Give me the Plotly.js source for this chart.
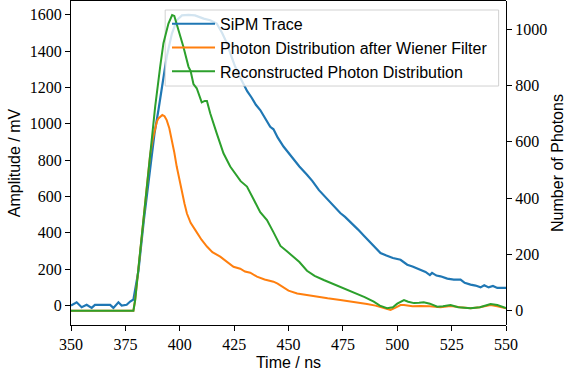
<!DOCTYPE html>
<html><head><meta charset="utf-8">
<script src="https://cdn.plot.ly/plotly-3.0.1.min.js"></script>
<style>html,body{margin:0;padding:0;background:#fff}#chart{width:566px;height:379px}</style>
</head><body><div id="chart"></div>
<script>
// ---- data ----
const blueTime = [350,352.6,354.9,357.2,359.5,361,368,369.5,371.8,373.3,
  375.6,377.2,378.7,381,383.5,386.5,388.4,390.2,392.2,394,
  396.4,398.6,401,404,407,411,414,417,419.5,421.7,
  423.5,425.5,427.5,429.3,431,433,435,437,439,441.6,
  443.1,445,447.7,450,452.4,455,458.5,461,464,467,
  470,473.8,476,479,482,485,489.2,492.3,495,498,
  501.5,504.6,507,510.7,513,515,516,518,519.9,523,
  526,529.1,531,533.7,536,538.3,540,542,544,546,550];
const blueAmplitude = [0,18,-9,4,-13,4,4,-13,18,0,
  4,22,33,190,470,765,948,1076,1222,1369,
  1497,1570,1597,1600,1597,1579,1570,1552,1500,1443,
  1380,1314,1262,1215,1180,1145,1105,1076,1035,984,
  970,925,875,840,801,765,720,685,635,595,
  555,509,488,450,418,380,325,289,275,262,
  252,225,215,198,185,168,180,165,161,148,
  143,143,125,115,110,100,112,100,108,97,97];

const orangeTime = [350,378.7,379.5,381.8,384.1,386.4,387.6,388.7,389.5,390.2,
  391.1,392,393,394,395.2,396.4,397.5,398.6,400,401,
  402.2,403.3,405,407.1,410,412.5,415,418.6,
  421,424.7,427.8,430,432.4,435.5,439,443.1,445,447.7,
  450,454,458.5,463,468,473.8,480,486.1,490,493.7,
  496.9,499,501.5,503.1,507,510.7,515,519.9,524.5,529,
  533.7,538,542.9,546,550];
const orangePhotons = [0,0,38,216,393,555,610,653,672,683,
  691,695,691,677,648,606,562,512,460,417,
  380,345,312,287,252,228,208,192,
  178,156,149,139,135,121,111,103,96,81,
  71,61,55,50,44,38,32,24,18,9,
  3,10,20,20,16,17,16,12,17,12,
  9,12,20,16,9];

const greenTime = [350,378.7,379.5,381.8,384.1,386.4,388.7,391,392.5,394.8,
  396.5,397.5,399.4,401.7,404,405,406.3,407.8,410.1,411.5,
  412.5,414,417,420.1,423.2,426.3,428,430.9,432.4,434,
  437,440.1,443,446.3,449,452.4,455,458.5,462,466.2,
  470,473.8,477,481.5,485,489.2,492,495.3,498,500,
  503.1,505,507.7,510,512.2,515,518.4,521,524.5,528,
  533.7,538,542.9,546,550];
const greenPhotons = [0,0,38,216,393,571,725,867,950,1020,
  1050,1047,997,937,867,851,805,790,740,745,
  745,701,630,559,512,476,460,441,420,395,
  350,322,280,230,213,192,173,142,124,109,
  97,85,74,61,48,32,18,9,12,25,
  38,32,27,28,30,25,14,16,20,12,
  9,12,24,20,9];

const seriesNames = ['SiPM Trace','Photon Distribution after Wiener Filter','Reconstructed Photon Distribution'];
const xTicks = [350,375,400,425,450,475,500,525,550];
const leftTicks = [0,200,400,600,800,1000,1200,1400,1600];
const rightTicks = [0,200,400,600,800,1000];

const sans = '"Liberation Sans", Arial, sans-serif';
const serif = '"Liberation Serif", "Times New Roman", serif';
const black = '#000';

const traces = [
  {x: blueTime, y: blueAmplitude, name: seriesNames[0], type: 'scatter', mode: 'lines',
   xaxis: 'x', yaxis: 'y', line: {color: '#1f77b4', width: 2.2}},
  {x: orangeTime, y: orangePhotons, name: seriesNames[1], type: 'scatter', mode: 'lines',
   xaxis: 'x2', yaxis: 'y2', line: {color: '#ff7f0e', width: 2}},
  {x: greenTime, y: greenPhotons, name: seriesNames[2], type: 'scatter', mode: 'lines',
   xaxis: 'x2', yaxis: 'y2', line: {color: '#2ca02c', width: 2}}
];

const tickCommon = {ticks: 'outside', ticklen: 5, tickwidth: 1, tickcolor: black,
  showline: true, linecolor: black, linewidth: 1, showgrid: false, zeroline: false,
  tickfont: {family: serif, size: 16, color: black}};

const layout = {
  width: 566, height: 379,
  margin: {l: 71, r: 60, t: 1, b: 54, pad: 0},
  paper_bgcolor: '#fff', plot_bgcolor: 'rgba(0,0,0,0)',
  hovermode: false, showlegend: true,
  legend: {x: 0.2207, y: 0.982, xanchor: 'left', yanchor: 'top',
    bgcolor: 'rgba(0,0,0,0)', borderwidth: 0, itemwidth: 43,
    font: {family: sans, size: 16, color: black}},
  xaxis: Object.assign({}, tickCommon, {domain: [0, 1], range: [350, 550], tickvals: xTicks,
    anchor: 'y', mirror: true,
    title: {text: 'Time / ns', standoff: 4, font: {family: sans, size: 16, color: black}}}),
  yaxis: Object.assign({}, tickCommon, {domain: [0, 1], range: [-107, 1676], tickvals: leftTicks,
    anchor: 'x', side: 'left',
    title: {text: 'Amplitude / mV', standoff: 5, font: {family: sans, size: 16, color: black}}}),
  xaxis2: {domain: [0, 1], range: [350, 550], anchor: 'y2', visible: false},
  yaxis2: Object.assign({}, tickCommon, {domain: [0, 1], range: [-50.8, 1100], tickvals: rightTicks,
    anchor: 'x2', side: 'right',
    title: {text: 'Number of Photons', standoff: 5, font: {family: sans, size: 16, color: black}}}),
  shapes: [{type: 'rect', xref: 'x2', yref: 'y2', x0: 393.3, x1: 546.6, y0: 798, y1: 1068,
    layer: 'below', fillcolor: 'rgba(255,255,255,0.8)', line: {color: 'rgba(204,204,204,0.9)', width: 1}}]
};

Plotly.newPlot('chart', traces, layout, {staticPlot: true, displayModeBar: false});
</script></body></html>
